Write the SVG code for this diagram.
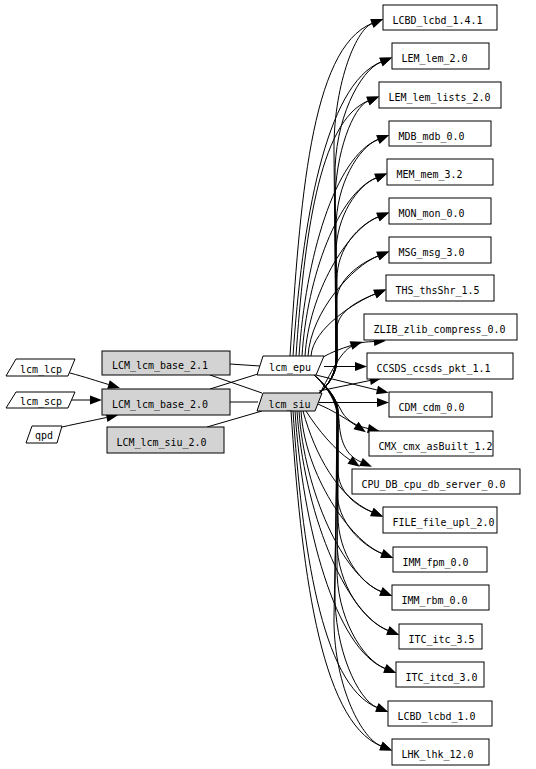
<svg xmlns="http://www.w3.org/2000/svg" width="536" height="769" viewBox="0 0 536 769">
<style>
  .bg{fill:#fff}
  .n rect,.n polygon{fill:#fff;stroke:#000;stroke-width:1}
  .g rect,.g polygon{fill:#d3d3d3;stroke:#000;stroke-width:1}
  text{font-family:"DejaVu Sans Mono","Liberation Mono",monospace;font-size:11px;fill:#000}
  .c text{text-anchor:middle}
  #edges path{fill:none;stroke:#000;stroke-width:1}
  #edges .a{marker-end:url(#ah)}
</style>
<defs>
  <marker id="ah" markerWidth="12" markerHeight="9" refX="0" refY="4.5" orient="auto" markerUnits="userSpaceOnUse" overflow="visible">
    <path d="M0,0 L12,4.5 L0,9 z" fill="#000"/>
  </marker>
</defs>
<rect class="bg" x="0" y="0" width="536" height="769"/>
<g id="edges">
  <!-- left -->
  <path class="a" d="M70,373 C85,377 97,381 108.5,384.5"/>
  <path class="a" d="M71,400 L90,400"/>
  <path class="a" d="M62,427 C80,423 95,420 106.5,417.5"/>
  <path d="M230,364 L260,366"/>
  <path d="M210,375 L262,393"/>
  <path d="M210,389 L261,373"/>
  <path d="M230,402 L258,402"/>
  <path d="M207,427 L262,411"/>
  <!-- epu up -->
  <path class="a" d="M290,356 C300,206 310,48 372,23.5"/>
  <path class="a" d="M293,356 C302,224 325,84.5 381,62"/>
  <path class="a" d="M296,356 C304,241 318.5,121 368,101"/>
  <path class="a" d="M299,356 C305.5,258.6 334.6,157.1 378,139.5"/>
  <path class="a" d="M302,356 C307,276 338.6,193 376,178"/>
  <path class="a" d="M305,356 C309,293.5 347,229.6 378,217"/>
  <path class="a" d="M308,356 C311,311 353,266 378,256"/>
  <path class="a" d="M311,356 C313,328 356,301.7 375,294"/>
  <!-- siu up -->
  <path class="a" d="M318,394 C330,384 336,372 336,358 L334,153 C333,88 354.9,30.4 372,23.5"/>
  <path class="a" d="M318,394 C330,384 337,372 337,358 L335,178 C334,120 359.7,70.6 381,62"/>
  <path class="a" d="M318,394 C330,384 336,372 336,358 L335,204 C335,152.5 353.2,107 368,101"/>
  <path class="a" d="M318,394 C330,384 337,372 337,358 L336,228.5 C336,184 358.5,147.4 378,139.5"/>
  <path class="a" d="M318,394 C330,384 336,372 336,358 L336,253.6 C336,215.8 357.9,185.3 376,178"/>
  <path class="a" d="M318,394 C330,384 337,372 337,358 L337,279 C337,248 359,224.7 378,217"/>
  <path class="a" d="M318,394 C330,384 336,372 336,358 L336,304.3 C336,280 359.5,263.5 378,256"/>
  <path class="a" d="M318,394 C330,384 337,372 337,358 L337,329 C337,311.5 357.9,301 375,294"/>
  <!-- ZLIB / CCSDS / CDM -->
  <path class="a" d="M323,357 C332,352 340,349 351,345.5"/>
  <path class="a" d="M320,393 C330,375 340,352 352,346 C360,342 366,342 374,341.5"/>
  <path class="a" d="M324,366.5 L355,366.5"/>
  <path class="a" d="M319,391 L370,380.5"/>
  <path class="a" d="M316,375 L377,390"/>
  <path class="a" d="M319,402.5 L377,402.5"/>
  <!-- CMX / CPU_DB / FILE -->
  <path class="a" d="M318,404 C332,410 345,418 356,425.5"/>
  <path class="a" d="M314,375 C328,388 337,402 342,412 C348,422 357,426 368,428.5"/>
  <path class="a" d="M306,411 C318,430 335,450 350,460"/>
  <path class="a" d="M314,375 C328,388 338,402 339,420 C340,440 345,455 361,462"/>
  <path class="a" d="M303,411 C315,455 338,497 372,512"/>
  <path class="a" d="M314,375 C328,388 338,402 338,425 L338,470 C338,492 355,505 372,512"/>
  <!-- epu down -->
  <path class="a" d="M314,375 C326,386 337,398 337,412 L337,491 C337,522 361.6,545.3 382,553.5"/>
  <path class="a" d="M314,375 C326,386 338,398 338,412 L338,515.7 C338,553.6 360.6,583.3 381,591.5"/>
  <path class="a" d="M314,375 C326,386 337,398 337,412 L337,541 C337,585.8 364.4,620.9 388,630.5"/>
  <path class="a" d="M314,375 C326,386 338,398 338,412 L337,565.8 C336,617 362.3,659.3 385,668.5"/>
  <path class="a" d="M314,375 C326,386 337,398 337,412 L335,591 C334,649 358,699.8 377,707.5"/>
  <path class="a" d="M314,375 C326,386 338,398 338,412 L334,616 C333,681 359.7,737.4 381,746"/>
  <!-- siu down -->
  <path class="a" d="M301,411 C305,475 350.3,540.7 382,553.5"/>
  <path class="a" d="M299,411 C304.4,492 343.3,576.2 381,591.5"/>
  <path class="a" d="M297,411 C303.6,509.8 344.2,612.8 388,630.5"/>
  <path class="a" d="M295,411 C302.7,526.9 335.1,648.3 385,668.5"/>
  <path class="a" d="M293,411 C301.9,544.4 321,684.9 377,707.5"/>
  <path class="a" d="M291,411 C301,561.8 318.9,720.9 381,746"/>
</g>
<g id="lcm_lcp" class="n c"><polygon points="16,359 75,359 68,376 6,376"/><text x="41" y="372.5" textLength="42" lengthAdjust="spacingAndGlyphs">lcm_lcp</text></g>
<g id="lcm_scp" class="n c"><polygon points="16,392 75,392 68,408 6,408"/><text x="41" y="405" textLength="42" lengthAdjust="spacingAndGlyphs">lcm_scp</text></g>
<g id="qpd" class="n c"><polygon points="32,426 62,426 57,443 26,443"/><text x="44" y="439" textLength="18" lengthAdjust="spacingAndGlyphs">qpd</text></g>
<g id="LCM_lcm_base_2_1" class="g"><rect x="102" y="351" width="128" height="24"/><text x="112" y="369" textLength="96" lengthAdjust="spacingAndGlyphs">LCM_lcm_base_2.1</text></g>
<g id="LCM_lcm_base_2_0" class="g"><rect x="102" y="389" width="128" height="26"/><text x="112" y="408" textLength="96" lengthAdjust="spacingAndGlyphs">LCM_lcm_base_2.0</text></g>
<g id="LCM_lcm_siu_2_0" class="g"><rect x="107" y="427" width="117" height="26"/><text x="116.5" y="446" textLength="90" lengthAdjust="spacingAndGlyphs">LCM_lcm_siu_2.0</text></g>
<g id="lcm_epu" class="n c"><polygon points="263,356 324,356 316,375 257,375"/><text x="290" y="371" textLength="42" lengthAdjust="spacingAndGlyphs">lcm_epu</text></g>
<g id="lcm_siu" class="g c"><polygon points="263,393 322,393 315,411 257,411"/><text x="289.5" y="407.5" textLength="42" lengthAdjust="spacingAndGlyphs">lcm_siu</text></g>
<g id="LCBD_lcbd_1_4_1" class="n"><rect x="383" y="5" width="114" height="25"/><text x="392.5" y="23.5" textLength="90" lengthAdjust="spacingAndGlyphs">LCBD_lcbd_1.4.1</text></g>
<g id="LEM_lem_2_0" class="n"><rect x="392" y="43" width="97" height="26"/><text x="401.5" y="62" textLength="66" lengthAdjust="spacingAndGlyphs">LEM_lem_2.0</text></g>
<g id="LEM_lem_lists_2_0" class="n"><rect x="379" y="82" width="122" height="26"/><text x="388.5" y="101" textLength="102" lengthAdjust="spacingAndGlyphs">LEM_lem_lists_2.0</text></g>
<g id="MDB_mdb_0_0" class="n"><rect x="389" y="121" width="102" height="25"/><text x="398.5" y="139.5" textLength="66" lengthAdjust="spacingAndGlyphs">MDB_mdb_0.0</text></g>
<g id="MEM_mem_3_2" class="n"><rect x="387" y="159" width="106" height="26"/><text x="396.5" y="178" textLength="66" lengthAdjust="spacingAndGlyphs">MEM_mem_3.2</text></g>
<g id="MON_mon_0_0" class="n"><rect x="389" y="198" width="102" height="26"/><text x="398.5" y="217" textLength="66" lengthAdjust="spacingAndGlyphs">MON_mon_0.0</text></g>
<g id="MSG_msg_3_0" class="n"><rect x="389" y="237" width="102" height="26"/><text x="398.5" y="256" textLength="66" lengthAdjust="spacingAndGlyphs">MSG_msg_3.0</text></g>
<g id="THS_thsShr_1_5" class="n"><rect x="386" y="275" width="108" height="26"/><text x="395.5" y="294" textLength="84" lengthAdjust="spacingAndGlyphs">THS_thsShr_1.5</text></g>
<g id="ZLIB_zlib_compress_0_0" class="n"><rect x="364" y="314" width="153" height="26"/><text x="373.5" y="333" textLength="132" lengthAdjust="spacingAndGlyphs">ZLIB_zlib_compress_0.0</text></g>
<g id="CCSDS_ccsds_pkt_1_1" class="n"><rect x="367" y="353" width="146" height="26"/><text x="376.5" y="372" textLength="114" lengthAdjust="spacingAndGlyphs">CCSDS_ccsds_pkt_1.1</text></g>
<g id="CDM_cdm_0_0" class="n"><rect x="389" y="392" width="103" height="25"/><text x="398.5" y="410.5" textLength="66" lengthAdjust="spacingAndGlyphs">CDM_cdm_0.0</text></g>
<g id="CMX_cmx_asBuilt_1_2" class="n"><rect x="369" y="431" width="124" height="25"/><text x="378.5" y="449.5" textLength="114" lengthAdjust="spacingAndGlyphs">CMX_cmx_asBuilt_1.2</text></g>
<g id="CPU_DB_cpu_db_server_0_0" class="n"><rect x="352" y="469" width="168" height="25"/><text x="361.5" y="487.5" textLength="144" lengthAdjust="spacingAndGlyphs">CPU_DB_cpu_db_server_0.0</text></g>
<g id="FILE_file_upl_2_0" class="n"><rect x="383" y="507" width="114" height="26"/><text x="392.5" y="526" textLength="102" lengthAdjust="spacingAndGlyphs">FILE_file_upl_2.0</text></g>
<g id="IMM_fpm_0_0" class="n"><rect x="393" y="547" width="94" height="25"/><text x="402.5" y="565.5" textLength="66" lengthAdjust="spacingAndGlyphs">IMM_fpm_0.0</text></g>
<g id="IMM_rbm_0_0" class="n"><rect x="392" y="585" width="97" height="25"/><text x="401.5" y="603.5" textLength="66" lengthAdjust="spacingAndGlyphs">IMM_rbm_0.0</text></g>
<g id="ITC_itc_3_5" class="n"><rect x="399" y="624" width="83" height="25"/><text x="408.5" y="642.5" textLength="66" lengthAdjust="spacingAndGlyphs">ITC_itc_3.5</text></g>
<g id="ITC_itcd_3_0" class="n"><rect x="396" y="662" width="88" height="25"/><text x="405.5" y="680.5" textLength="72" lengthAdjust="spacingAndGlyphs">ITC_itcd_3.0</text></g>
<g id="LCBD_lcbd_1_0" class="n"><rect x="388" y="701" width="104" height="25"/><text x="397.5" y="719.5" textLength="78" lengthAdjust="spacingAndGlyphs">LCBD_lcbd_1.0</text></g>
<g id="LHK_lhk_12_0" class="n"><rect x="392" y="739" width="97" height="26"/><text x="401.5" y="758" textLength="72" lengthAdjust="spacingAndGlyphs">LHK_lhk_12.0</text></g>
</svg>
